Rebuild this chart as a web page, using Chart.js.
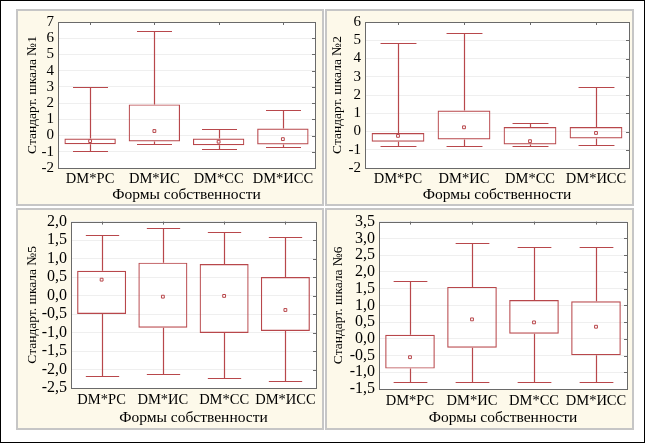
<!DOCTYPE html>
<html>
<head>
<meta charset="utf-8">
<script src="https://cdn.jsdelivr.net/npm/chart.js@4.4.1/dist/chart.umd.min.js"></script>
<style>
  html, body { margin: 0; padding: 0; background: #fff; }
  #frame { position: absolute; left: 0; top: 0; width: 643px; height: 441px; border: 1px solid #000; }
  .panel { position: absolute; box-sizing: border-box; background: #fdf9ea; border: 2px solid #c6c6c6; }
  canvas { position: absolute; }
</style>
</head>
<body>
<div id="frame"></div>
<div class="panel" style="left:16px;top:9px;width:308px;height:197px"></div>
<div class="panel" style="left:325px;top:9px;width:309px;height:197px"></div>
<div class="panel" style="left:16px;top:208px;width:308px;height:222px"></div>
<div class="panel" style="left:325px;top:208px;width:309px;height:222px"></div>
<canvas id="chart1" width="308" height="197" style="left:16px;top:9px;width:308px;height:197px"></canvas>
<canvas id="chart2" width="309" height="197" style="left:325px;top:9px;width:309px;height:197px"></canvas>
<canvas id="chart3" width="308" height="222" style="left:16px;top:208px;width:308px;height:222px"></canvas>
<canvas id="chart4" width="309" height="222" style="left:325px;top:208px;width:309px;height:222px"></canvas>
<script>
const categories = ['DM*РС', 'DM*ИС', 'DM*СС', 'DM*ИСС']
const xTitle = 'Формы собственности'

// Стандарт. шкала №1
const scale1Max = [3.0, 6.46, 0.43, 1.58]
const scale1Q3 = [-0.18, 1.92, -0.18, 0.43]
const scale1Q1 = [-0.53, -0.36, -0.59, -0.55]
const scale1Min = [-0.93, -0.49, -0.83, -0.71]
const scale1Mean = [-0.34, 0.28, -0.38, -0.22]

// Стандарт. шкала №2
const scale2Max = [4.83, 5.39, 0.46, 2.44]
const scale2Q3 = [-0.08, 1.15, 0.25, 0.25]
const scale2Q1 = [-0.56, -0.44, -0.71, -0.38]
const scale2Min = [-0.80, -0.80, -0.78, -0.76]
const scale2Mean = [-0.24, 0.23, -0.53, -0.08]

// Стандарт. шкала №5
const scale5Max = [1.64, 1.82, 1.71, 1.58]
const scale5Q3 = [0.67, 0.89, 0.85, 0.50]
const scale5Q1 = [-0.50, -0.87, -1.01, -0.96]
const scale5Min = [-2.18, -2.12, -2.22, -2.30]
const scale5Mean = [0.43, -0.03, -0.01, -0.39]

// Стандарт. шкала №6
const scale6Max = [1.73, 2.85, 2.74, 2.74]
const scale6Q3 = [0.12, 1.55, 1.16, 1.12]
const scale6Q1 = [-0.89, -0.27, 0.15, -0.49]
const scale6Min = [-1.28, -1.28, -1.28, -1.28]
const scale6Mean = [-0.55, 0.58, 0.49, 0.36]

const boxColor = '#b8474b'
const serif = 'Liberation Serif'

// white plot area, frame, whiskers and little inner tick marks
const boxPlotPlugin = {
    id: 'boxPlot',
    beforeDraw(chart) {
        const a = chart.chartArea
        const ctx = chart.ctx
        ctx.save()
        ctx.fillStyle = '#ffffff'
        ctx.fillRect(a.left, a.top, a.right - a.left, a.bottom - a.top)
        ctx.restore()
    },
    afterDatasetsDraw(chart) {
        const ctx = chart.ctx
        const a = chart.chartArea
        const ds = chart.data.datasets[0]
        const meta = chart.getDatasetMeta(0)
        const y = chart.scales.y
        const x = chart.scales.x
        ctx.save()
        ctx.strokeStyle = boxColor
        ctx.lineWidth = 1.2
        meta.data.forEach(function(bar, i) {
            const cx = Math.round(bar.x) + 0.5
            const half = bar.width * 0.34
            const yMax = Math.round(y.getPixelForValue(ds.highs[i])) + 0.5
            const yQ3 = y.getPixelForValue(ds.data[i][1])
            const yQ1 = y.getPixelForValue(ds.data[i][0])
            const yMin = Math.round(y.getPixelForValue(ds.lows[i])) + 0.5
            ctx.beginPath()
            ctx.moveTo(cx, yQ3); ctx.lineTo(cx, yMax)
            ctx.moveTo(cx - half, yMax); ctx.lineTo(cx + half, yMax)
            ctx.moveTo(cx, yQ1); ctx.lineTo(cx, yMin)
            ctx.moveTo(cx - half, yMin); ctx.lineTo(cx + half, yMin)
            ctx.stroke()
        })
        // plot frame
        ctx.lineWidth = 1
        ctx.strokeStyle = '#6a6a6a'
        ctx.strokeRect(Math.round(a.left) + 0.5, Math.round(a.top) + 0.5,
            Math.round(a.right - a.left), Math.round(a.bottom - a.top))
        ctx.beginPath()
        x.ticks.forEach(function(t, i) {
            const px = Math.round(x.getPixelForTick(i)) + 0.5
            ctx.moveTo(px, a.top); ctx.lineTo(px, a.top + 3)
        })
        y.ticks.forEach(function(t, i) {
            const py = Math.round(y.getPixelForTick(i)) + 0.5
            ctx.moveTo(a.right, py); ctx.lineTo(a.right - 3, py)
        })
        ctx.stroke()
        ctx.restore()
    }
}

function makeChart(id, p) {
    new Chart(document.getElementById(id), {
        type: 'bar',
        data: {
            labels: categories,
            datasets: [
                {
                    data: p.q1.map(function(v, i) { return [v, p.q3[i]] }),
                    lows: p.min,
                    highs: p.max,
                    backgroundColor: 'rgba(0,0,0,0)',
                    borderColor: boxColor,
                    borderWidth: 1.2,
                    borderSkipped: false,
                    categoryPercentage: 0.8,
                    barPercentage: 1,
                    order: 2
                },
                {
                    type: 'line',
                    data: p.mean,
                    showLine: false,
                    pointStyle: 'rect',
                    pointRadius: 2,
                    borderWidth: 1,
                    borderColor: boxColor,
                    backgroundColor: '#ffffff',
                    order: 1
                }
            ]
        },
        options: {
            responsive: false,
            animation: false,
            layout: { padding: { top: p.padTop, right: p.padRight, left: 0, bottom: 0 } },
            scales: {
                x: {
                    grid: { display: false, drawTicks: false },
                    border: { display: false },
                    ticks: {
                        autoSkip: false,
                        maxRotation: 0,
                        minRotation: 0,
                        color: '#000',
                        font: { family: serif, size: 14.5 },
                        padding: p.xTickPad
                    },
                    title: {
                        display: true,
                        text: xTitle,
                        color: '#000',
                        font: { family: serif, size: 15.5 },
                        padding: { top: 0, bottom: p.xTitlePad }
                    },
                    afterFit: function(s) { s.height = p.xHeight }
                },
                y: {
                    min: p.yMin,
                    max: p.yMax,
                    grid: { color: '#efefef', drawTicks: false },
                    border: { display: false },
                    ticks: {
                        autoSkip: false,
                        stepSize: p.step,
                        color: '#000',
                        padding: 4,
                        font: { family: serif, size: p.tickSize },
                        callback: function(v) { return p.comma ? v.toFixed(1).replace('.', ',') : String(v) }
                    },
                    title: {
                        display: true,
                        text: p.yTitle,
                        color: '#000',
                        font: { family: serif, size: 13.5 },
                        padding: { top: p.yTitlePad, bottom: 0 }
                    },
                    afterFit: function(s) { s.width = p.yWidth }
                }
            },
            plugins: {
                legend: { display: false },
                tooltip: { enabled: false }
            }
        },
        plugins: [boxPlotPlugin]
    })
}

makeChart('chart1', {
    max: scale1Max, q3: scale1Q3, q1: scale1Q1, min: scale1Min, mean: scale1Mean,
    yMin: -2, yMax: 7, step: 1, comma: false, yTitle: 'Стандарт. шкала №1', tickSize: 15,
    padTop: 11, padRight: 9, yWidth: 42, xHeight: 38, xTickPad: 2, xTitlePad: 2, yTitlePad: 8
})
makeChart('chart2', {
    max: scale2Max, q3: scale2Q3, q1: scale2Q1, min: scale2Min, mean: scale2Mean,
    yMin: -2, yMax: 6, step: 1, comma: false, yTitle: 'Стандарт. шкала №2', tickSize: 15,
    padTop: 11, padRight: 5, yWidth: 40, xHeight: 38, xTickPad: 2, xTitlePad: 2, yTitlePad: 4
})
makeChart('chart3', {
    max: scale5Max, q3: scale5Q3, q1: scale5Q1, min: scale5Min, mean: scale5Mean,
    yMin: -2.5, yMax: 2, step: 0.5, comma: true, yTitle: 'Стандарт. шкала №5', tickSize: 16,
    padTop: 12, padRight: 8, yWidth: 55, xHeight: 42, xTickPad: 3.5, xTitlePad: 3, yTitlePad: 8
})
makeChart('chart4', {
    max: scale6Max, q3: scale6Q3, q1: scale6Q1, min: scale6Min, mean: scale6Mean,
    yMin: -1.5, yMax: 3.5, step: 0.5, comma: true, yTitle: 'Стандарт. шкала №6', tickSize: 16,
    padTop: 12, padRight: 7, yWidth: 54, xHeight: 41, xTickPad: 3.5, xTitlePad: 3, yTitlePad: 5
})
</script>
</body>
</html>
